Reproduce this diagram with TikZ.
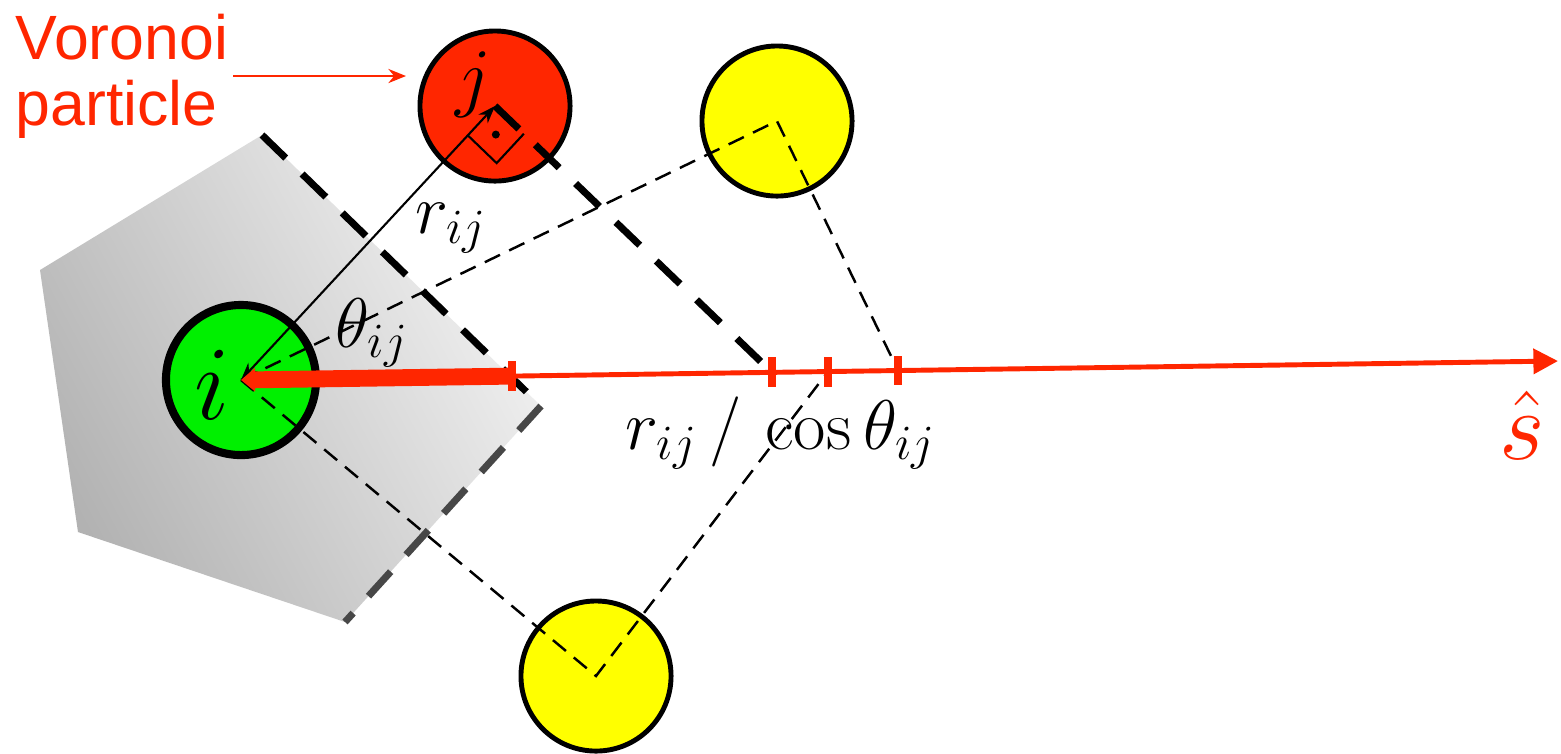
\RequirePackage{fix-cm}
\documentclass[tikz,border=0pt]{standalone}
\usepackage{fontspec}
\newfontfamily\labelsans{Liberation Sans}
\usetikzlibrary{arrows.meta,calc}
\definecolor{vred}{RGB}{255,38,0}
\definecolor{vgreen}{RGB}{0,240,0}
\definecolor{vyellow}{RGB}{255,255,0}
\begin{document}
\begin{tikzpicture}[x=0.01cm,y=-0.01cm,
  particle/.style={circle, draw=black, minimum size=1.5cm, inner sep=0pt, line width=1.4pt},
  tickmark/.style={rectangle, fill=vred, draw=none, minimum width=2.3pt, minimum height=8.5pt, inner sep=0pt},
  thindash/.style={line width=0.7pt, dash pattern=on 4.8pt off 2.9pt},
  thickdash/.style={line width=2pt, dash pattern=on 9.4pt off 6.5pt},
  mathlabel/.style={inner sep=0pt, font=\fontsize{20}{24}\selectfont},
]
\fill[white] (0,0) rectangle (1561,753);
\useasboundingbox (0,0) rectangle (1561,753);

% Voronoi cell of particle i
\coordinate (p1) at (262,135);
\coordinate (p2) at (40,270);
\coordinate (p3) at (78,532);
\coordinate (p4) at (345,622);
\coordinate (p5) at (541,406);
\shade[top color=black!5, bottom color=black!30, shading angle=-62]
  (p1) -- (p2) -- (p3) -- (p4) -- (p5) -- cycle;
\draw[thickdash] (p1) -- (p5);
\draw[thickdash, black!72] (p5) -- (p4);

% particles
\node[particle, fill=vgreen, line width=2.3pt] (i) at (241,380) {};
\node[particle, fill=vred] (j) at (495,106) {};
\node[particle, fill=vyellow] (ya) at (777,121) {};
\node[particle, fill=vyellow] (yb) at (596,676) {};

% direction axis and its marks
\coordinate (E) at (1558,361);
\coordinate (s1) at ($(i.center)!0.2058!(E)$);
\coordinate (s2) at ($(i.center)!0.4032!(E)$);
\coordinate (s3) at ($(i.center)!0.4457!(E)$);
\coordinate (s4) at ($(i.center)!0.4989!(E)$);

% projections of the neighbours
\draw[thindash] (i.center) -- (ya.center) -- (s4);
\draw[thindash] (i.center) -- (yb.center) -- (s3);
\draw[thickdash] (j.center) -- (s2);

% separation vector and right angle
\draw[line width=0.6pt, {Stealth[length=5pt,width=3.6pt]}-{Stealth[length=5pt,width=3.6pt]}]
  (i.center) -- (j.center);
\coordinate (qa) at ($(j.center)!0.4cm!(i.center)$);
\coordinate (qb) at ($(j.center)!0.4cm!(s2)$);
\coordinate (qc) at ($(qa)+(qb)-(j.center)$);
\draw[line width=0.6pt] (qa) -- (qc) -- (qb);
\fill (${0.5}*(qa)+0.5*(qb)$) circle (4);

% unit vector s
\draw[vred, line width=1.4pt, -{Triangle[length=7pt,width=7pt]}] (s1) -- (E);
\draw[vred, line width=4.8pt, -{Triangle[length=4pt,width=6.5pt]}] (s1) -- (i.center);
\node[tickmark] (t1) at (s1) {};
\node[tickmark] (t2) at (s2) {};
\node[tickmark] (t3) at (s3) {};
\node[tickmark] (t4) at (s4) {};

% labels
\node[inner sep=0pt, font=\fontsize{30}{36}\selectfont] (li) at (212,385) {$i$};
\node[inner sep=0pt, font=\fontsize{22}{26}\selectfont] (lj) at (473,85) {$j$};
\node[mathlabel] (lr) at (451,228) {$r_{ij}$};
\node[mathlabel] (lth) at (372,333) {$\theta_{ij}$};
\node[mathlabel] (lrc) at (781,433) {$r_{ij}\,/\,\cos\theta_{ij}$};
\node[inner sep=0pt, text=vred, font=\fontsize{28}{34}\selectfont] (ls) at (1522,425) {$\hat{s}$};

\node[inner sep=0pt, text=vred, align=left, anchor=north west,
  font=\labelsans\fontsize{17.8}{18.8}\selectfont] (vp) at (15,13) {Voronoi\\particle};
\coordinate (va) at (233,76);
\coordinate (vb) at (406,76);
\draw[vred, line width=0.75pt, -{Stealth[length=5pt,width=4pt]}] (va) -- (vb);
\end{tikzpicture}
\end{document}
